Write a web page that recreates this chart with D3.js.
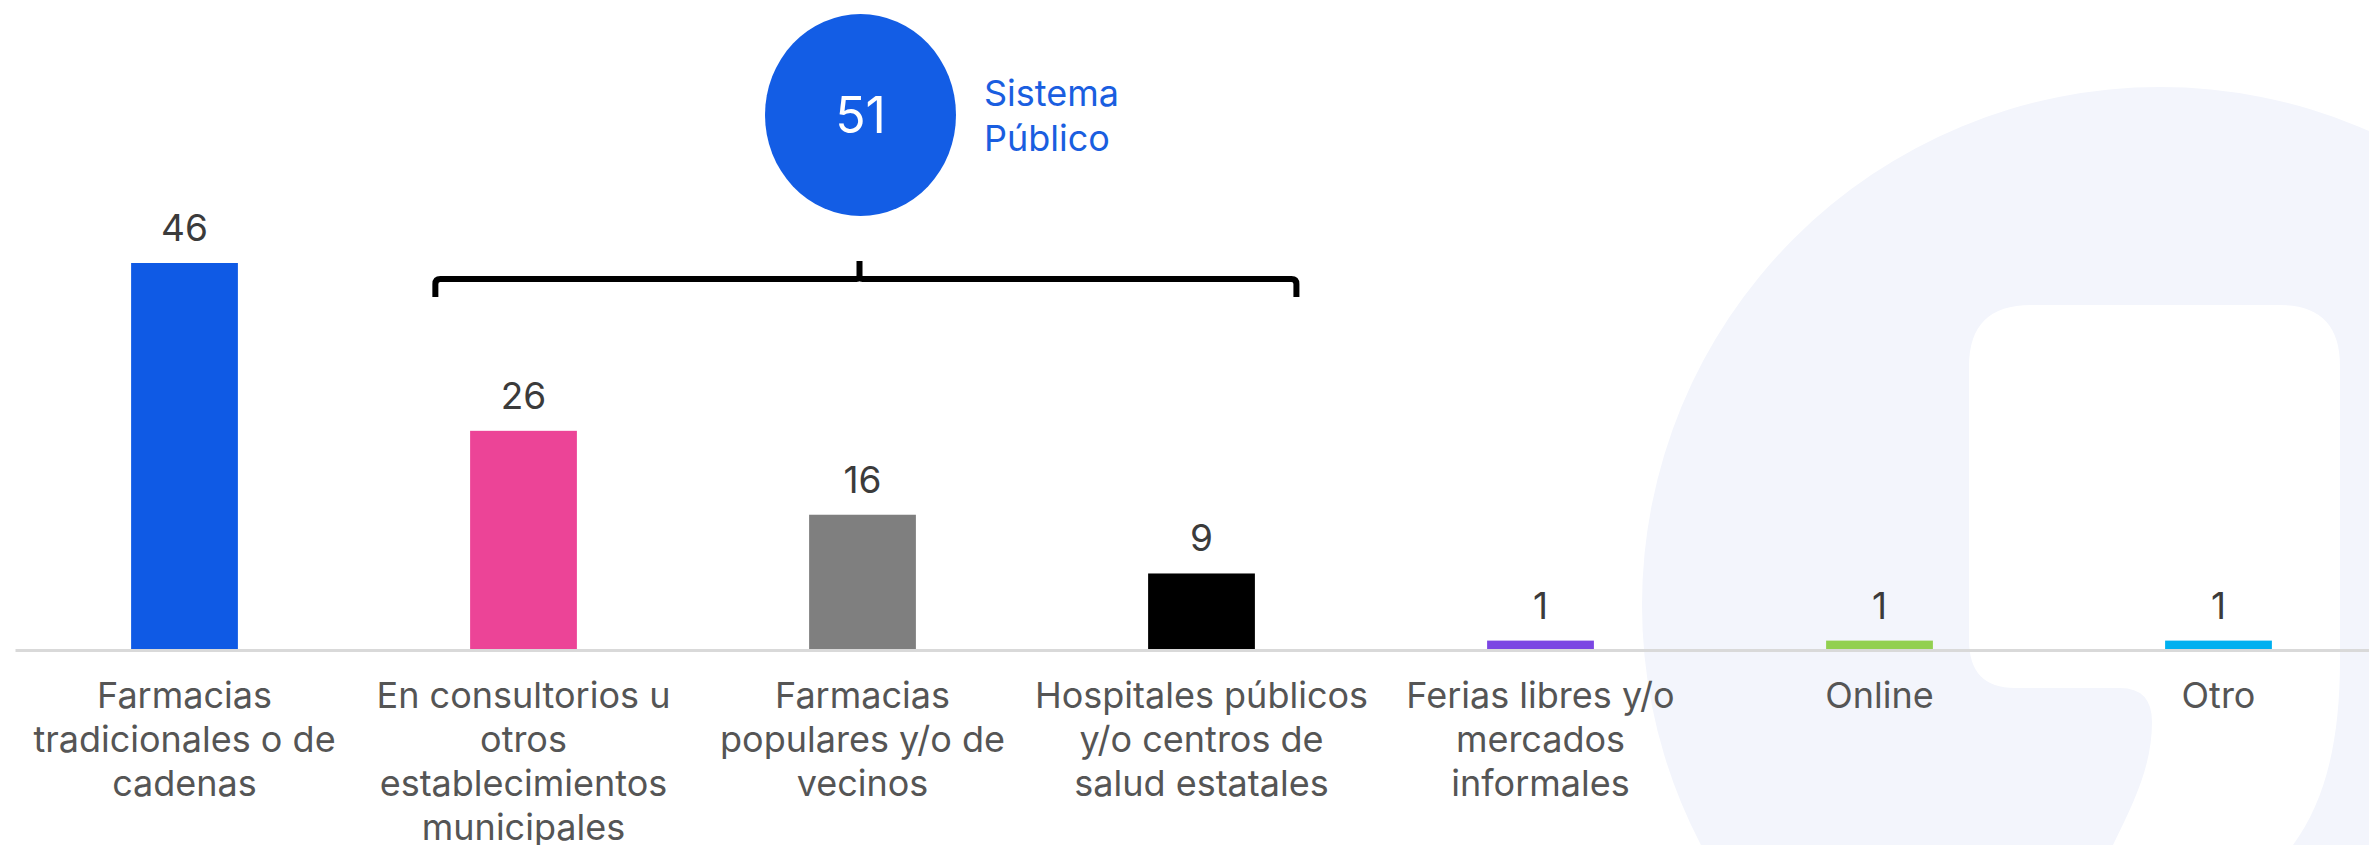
<!DOCTYPE html>
<html>
<head>
<meta charset="utf-8">
<script src="https://cdn.jsdelivr.net/npm/d3@7"></script>
<style>
  body { margin: 0; background: #fff; }
  svg { display: block; font-family: Inter, "Noto Sans", sans-serif; }
</style>
</head>
<body>
<div id="chart"></div>
<script>
const categories = [
    'Farmacias tradicionales o de cadenas',
    'En consultorios u otros establecimientos municipales',
    'Farmacias populares y/o de vecinos',
    'Hospitales públicos y/o centros de salud estatales',
    'Ferias libres y/o mercados informales',
    'Online',
    'Otro'
];
const labelLines = [
    ['Farmacias', 'tradicionales o de', 'cadenas'],
    ['En consultorios u', 'otros', 'establecimientos', 'municipales'],
    ['Farmacias', 'populares y/o de', 'vecinos'],
    ['Hospitales públicos', 'y/o centros de', 'salud estatales'],
    ['Ferias libres y/o', 'mercados', 'informales'],
    ['Online'],
    ['Otro']
];
const values = [46, 26, 16, 9, 1, 1, 1];
const barColors = ['#0f5ae5', '#ec4497', '#7f7f7f', '#000000', '#7b46e3', '#92d050', '#00b0f0'];

// grouped annotation (public system)
const groupTotal = 51;
const groupLabel = ['Sistema', 'Público'];
const groupFirst = 1;
const groupLast = 3;

const outerWidth = 2369;
const outerHeight = 845;
const baseY = 649;

const svg = d3.select('#chart').append('svg')
    .attr('width', outerWidth)
    .attr('height', outerHeight);

// faint watermark logo in the background
const logo = d3.path();
logo.moveTo(2160 + 518, 605);
logo.arc(2160, 605, 518, 0, 2 * Math.PI);
logo.closePath();
const hole = 'M1969,366 Q1969,305 2031,305 H2280 Q2340,305 2340,366 V660 ' +
    'C2340,740 2326,800 2293,845 L2280,875 L2100,875 L2113,845 C2135,800 2152,765 2152,722 ' +
    'Q2152,688 2120,688 H2015 Q1969,688 1969,640 Z';
svg.append('path')
    .attr('d', logo.toString() + hole)
    .attr('fill', '#f3f5fc')
    .attr('fill-rule', 'evenodd');

const x = d3.scaleBand()
    .domain(categories)
    .range([15, 15 + 339 * 7])
    .paddingInner(0.685)
    .paddingOuter(0.3425);

const y = d3.scaleLinear()
    .domain([0, d3.max(values)])
    .range([baseY, 263]);

const data = categories.map((c, i) => ({ cat: c, value: values[i], color: barColors[i], lines: labelLines[i] }));

svg.selectAll('rect.bar')
    .data(data)
    .join('rect')
    .attr('class', 'bar')
    .attr('x', d => x(d.cat))
    .attr('y', d => y(d.value))
    .attr('width', x.bandwidth())
    .attr('height', d => baseY - y(d.value))
    .attr('fill', d => d.color);

svg.selectAll('text.value')
    .data(data)
    .join('text')
    .attr('class', 'value')
    .attr('x', d => x(d.cat) + x.bandwidth() / 2)
    .attr('y', d => y(d.value) - 22)
    .attr('text-anchor', 'middle')
    .attr('font-size', 37)
    .attr('fill', '#3b3b3b')
    .text(d => d.value);

// axis with multi-line labels
const xAxis = d3.axisBottom(x).tickSize(0).tickSizeOuter(0).tickPadding(0);
const gx = svg.append('g')
    .attr('transform', `translate(0, ${baseY + 1})`)
    .call(xAxis);
gx.select('.domain').attr('stroke', '#d9d9d9').attr('stroke-width', 3);
gx.selectAll('.tick text').each(function(c) {
    const t = d3.select(this);
    const lines = labelLines[categories.indexOf(c)];
    t.text(null)
        .attr('y', 0)
        .attr('dy', null)
        .attr('font-size', 36)
        .attr('font-family', 'Inter, "Noto Sans", sans-serif')
        .attr('fill', '#555555');
    lines.forEach((ln, k) => {
        t.append('tspan').attr('x', 0).attr('y', 58 + k * 44).text(ln);
    });
});

// bracket over the public-system bars
const step = x.step();
const c1 = x(categories[groupFirst]) + x.bandwidth() / 2;
const c3 = x(categories[groupLast]) + x.bandwidth() / 2;
const bl = c1 - 0.26 * step;
const br = c3 + 0.28 * step;
const bm = (c1 + c3) / 2 - 3;
const by = 279;
svg.append('path')
    .attr('d', `M${bl},${by + 18} V${by + 5} Q${bl},${by} ${bl + 5},${by} H${bm - 3} Q${bm},${by} ${bm},${by - 4} V${by - 18}` +
        ` M${bm},${by - 4} Q${bm},${by} ${bm + 3},${by} H${br - 5} Q${br},${by} ${br},${by + 5} V${by + 18}`)
    .attr('fill', 'none')
    .attr('stroke', '#000')
    .attr('stroke-width', 6);

svg.append('ellipse')
    .attr('cx', bm + 1)
    .attr('cy', 115)
    .attr('rx', 95.5)
    .attr('ry', 101)
    .attr('fill', '#135de5');

svg.append('text')
    .attr('x', bm + 1)
    .attr('y', 133)
    .attr('text-anchor', 'middle')
    .attr('font-size', 50)
    .attr('fill', '#fff')
    .text(groupTotal);

svg.append('text')
    .attr('font-size', 36)
    .attr('fill', '#1a5ee0')
    .selectAll('tspan')
    .data(groupLabel)
    .join('tspan')
    .attr('x', 984)
    .attr('y', (d, i) => 106 + i * 44.5)
    .text(d => d);
</script>
</body>
</html>
